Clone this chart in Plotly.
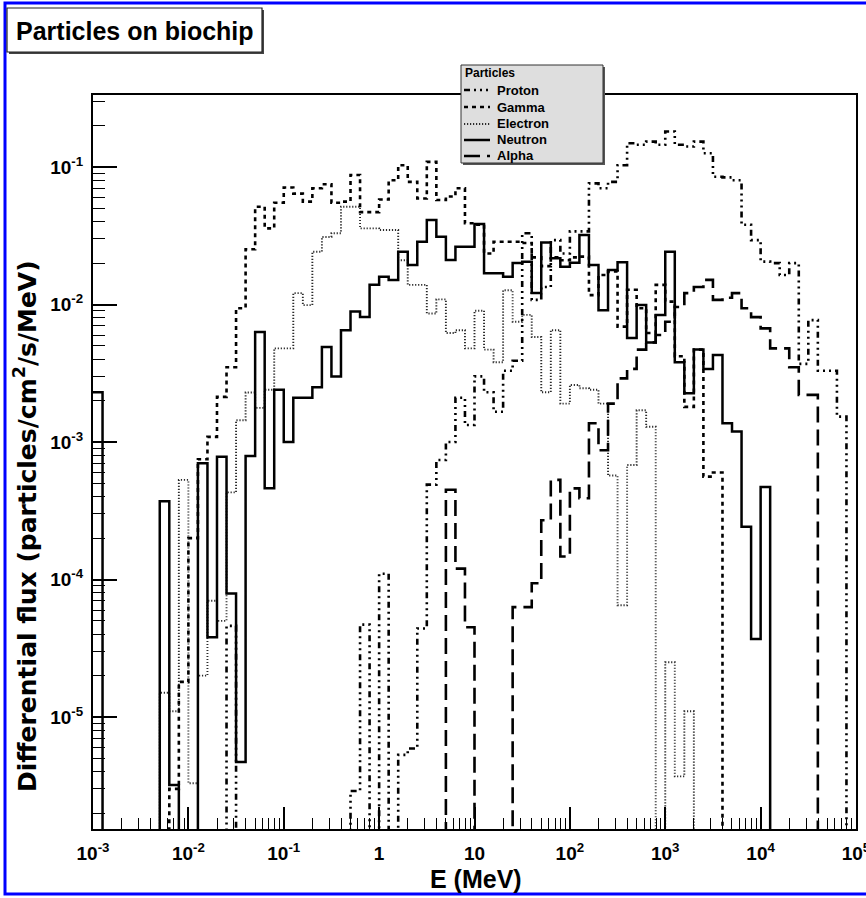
import numpy as np
import plotly.graph_objects as go

# ---- binning: 10 log bins per decade, 1e-3 .. 1e5 MeV ----
edges = np.logspace(-3, 5, 81)

# ---- series values (differential flux, particles/cm2/s/MeV), 80 bins ----
proton = [
    0, 0, 0, 0, 0, 0, 0, 0, 0, 0,
    0, 0, 0, 0, 4.6e-5, 0, 0, 0, 0, 0,
    0, 0, 0, 0, 0, 0, 0, 2.9e-6, 4.7e-5, 0,
    1.1e-4, 0, 5.3e-6, 5.9e-6, 4.4e-5, 4.9e-4, 7.4e-4, 1.0e-3, 2.1e-3, 1.33e-3,
    3.0e-3, 2.3e-3, 1.66e-3, 3.3e-3, 3.9e-3, 0.033, 0.0108, 0.0134, 0.0294, 0.0235,
    0.034, 0.034, 0.076, 0.070, 0.078, 0.103, 0.149, 0.145, 0.153, 0.145,
    0.181, 0.145, 0.141, 0.153, 0.126, 0.085, 0.084, 0.080, 0.038, 0.0294,
    0.0205, 0.020, 0.0164, 0.020, 3.7e-3, 7.7e-3, 3.3e-3, 3.3e-3, 1.53e-3, 0,
]
gamma = [
    0, 0, 0, 0, 0, 0, 0, 0, 3e-6, 1.8e-5,
    2.0e-4, 7.5e-4, 1.09e-3, 2.13e-3, 3.5e-3, 9.4e-3, 0.0252, 0.0514, 0.0358, 0.055,
    0.071, 0.064, 0.056, 0.070, 0.075, 0.055, 0.056, 0.0875, 0.047, 0.047,
    0.058, 0.080, 0.103, 0.078, 0.059, 0.109, 0.0575, 0.061, 0.070, 0.039,
    0.038, 0.0235, 0.0286, 0.0286, 0.0286, 0.028, 0.022, 0.019, 0.022, 0.021,
    0.022, 0.0223, 0.0117, 0.0164, 0.0174, 6.9e-3, 0.0128, 9.4e-3, 6.2e-3, 0.0139,
    0.0105, 4.2e-3, 1.8e-3, 4.7e-3, 5.6e-4, 6.0e-4, 0, 0, 0, 0,
    0, 0, 0, 0, 0, 0, 0, 0, 0, 0,
]
electron = [
    0, 0, 0, 0, 0, 0, 0, 1.5e-5, 1.1e-5, 5.3e-4,
    3.3e-6, 2.0e-5, 7.0e-5, 5.0e-5, 4.3e-4, 1.44e-3, 2.29e-3, 1.77e-3, 2.4e-3, 4.8e-3,
    4.8e-3, 0.0121, 9.9e-3, 0.0242, 0.031, 0.033, 0.0514, 0.0514, 0.0358, 0.0358,
    0.0348, 0.0348, 0.021, 0.0139, 0.0139, 8.6e-3, 0.0109, 6.2e-3, 6.5e-3, 4.8e-3,
    9.0e-3, 4.7e-3, 3.8e-3, 0.0127, 7.5e-3, 8.4e-3, 5.8e-3, 2.3e-3, 6.5e-3, 1.9e-3,
    2.6e-3, 2.46e-3, 2.4e-3, 1.9e-3, 5.7e-4, 6.5e-5, 6.8e-4, 1.7e-3, 1.29e-3, 0,
    2.5e-5, 3.7e-6, 1.1e-5, 0, 0, 0, 0, 0, 0, 0,
    0, 0, 0, 0, 0, 0, 0, 0, 0, 0,
]
neutron = [
    2.3e-3, 0, 0, 0, 0, 0, 0, 3.7e-4, 3.2e-6, 0,
    0, 7.0e-4, 3.8e-5, 7.8e-4, 7.9e-5, 4.7e-6, 7.9e-4, 6.3e-3, 4.6e-4, 2.4e-3,
    1.0e-3, 2.1e-3, 2.1e-3, 2.5e-3, 4.9e-3, 3.0e-3, 6.5e-3, 8.9e-3, 8.1e-3, 0.0139,
    0.0159, 0.0151, 0.0242, 0.0194, 0.0286, 0.0412, 0.0311, 0.0211, 0.0263, 0.0263,
    0.0385, 0.0169, 0.0169, 0.0159, 0.020, 0.0205, 0.0121, 0.0282, 0.0217, 0.0188,
    0.0201, 0.032, 0.0194, 9.1e-3, 0.0178, 0.0203, 5.7e-3, 9.9e-3, 5.3e-3, 8.4e-3,
    0.0242, 3.8e-3, 2.26e-3, 4.7e-3, 3.4e-3, 4.3e-3, 1.37e-3, 1.19e-3, 2.42e-4, 3.7e-5,
    4.7e-4, 0, 0, 0, 0, 0, 0, 0, 0, 0,
]
alpha = [
    0, 0, 0, 0, 0, 0, 0, 0, 0, 0,
    0, 0, 0, 0, 0, 0, 0, 0, 0, 0,
    0, 0, 0, 0, 0, 0, 0, 0, 0, 0,
    0, 0, 0, 0, 0, 0, 0, 4.5e-4, 1.2e-4, 4.5e-5,
    0, 0, 0, 0, 6.3e-5, 6.3e-5, 9.4e-5, 2.7e-4, 5.3e-4, 1.47e-4,
    4.6e-4, 3.9e-4, 1.37e-3, 8.7e-4, 1.9e-3, 2.9e-3, 3.4e-3, 4.7e-3, 5.3e-3, 6.0e-3,
    7.5e-3, 9.6e-3, 0.0121, 0.0134, 0.0151, 0.0108, 0.0112, 0.0121, 9.4e-3, 8.1e-3,
    6.7e-3, 4.8e-3, 4.8e-3, 3.5e-3, 2.2e-3, 2.2e-3, 0, 0, 0, 0,
]

series_names = ["Proton", "Gamma", "Electron", "Neutron", "Alpha"]
x_tick_vals = [1e-3, 1e-2, 1e-1, 1, 10, 1e2, 1e3, 1e4, 0.99995e5]
x_tick_text = ["10<sup>-3</sup>", "10<sup>-2</sup>", "10<sup>-1</sup>", "1", "10",
               "10<sup>2</sup>", "10<sup>3</sup>", "10<sup>4</sup>", "10<sup>5</sup>"]
y_tick_vals = [1e-5, 1e-4, 1e-3, 1e-2, 1e-1]
y_tick_text = ["10<sup>-5</sup>", "10<sup>-4</sup>", "10<sup>-3</sup>", "10<sup>-2</sup>", "10<sup>-1</sup>"]

for s in (proton, gamma, electron, neutron, alpha):
    assert len(s) == 80

# ---- styles ----
styles = {
    "Proton":   dict(color="black", width=2.6, dash="6px,4px,2px,4px,2px,4px,2px,4px"),
    "Gamma":    dict(color="black", width=2.6, dash="4px,4px"),
    "Electron": dict(color="#2a2a2a", width=1.9, dash="1.2px,1.8px"),
    "Neutron":  dict(color="black", width=2.5, dash="solid"),
    "Alpha":    dict(color="black", width=2.6, dash="16px,7px"),
}
data = {"Proton": proton, "Gamma": gamma, "Electron": electron, "Neutron": neutron, "Alpha": alpha}

FLOOR = 1e-9  # empty bins drop below the frame (as in ROOT)


def step_xy(vals):
    y = [v if v > 0 else FLOOR for v in vals]
    y.append(y[-1])
    return list(edges), y


fig = go.Figure()
for name in ["Electron", "Gamma", "Proton", "Alpha", "Neutron"]:
    x, y = step_xy(data[name])
    st = styles[name]
    fig.add_trace(go.Scatter(
        x=x, y=y, mode="lines", name=name,
        line=dict(shape="hv", color=st["color"], width=st["width"], dash=st["dash"]),
        showlegend=False, hoverinfo="skip"))

# ---- geometry helpers (pixel -> paper) ----
L, R, T, B = 93, 856, 95, 829
W_, H_ = R - L, B - T


def px(xp):
    return (xp - L) / W_


def py(yp):
    return (B - yp) / H_


FONT = "Liberation Sans, Arial, sans-serif"
WIDE = "DejaVu Sans, Liberation Sans, sans-serif"

# minor tick positions
ymin_log, ymax_log = -5.8145, -0.4764
x_minor = [k * 10.0 ** d for d in range(-3, 5) for k in range(2, 10)]
y_minor = [k * 10.0 ** d for d in range(-6, 0) for k in range(2, 10)
           if ymin_log <= np.log10(k * 10.0 ** d) <= ymax_log]

fig.update_layout(
    width=866, height=898,
    margin=dict(l=L, r=866 - R, t=T, b=898 - B, pad=0, autoexpand=False),
    paper_bgcolor="white", plot_bgcolor="white",
    showlegend=False,
    xaxis=dict(
        type="log", range=[-3, 5], showgrid=False, zeroline=False, automargin=False,
        showline=True, mirror=True, linecolor="black", linewidth=2,
        ticks="inside", ticklen=22, tickwidth=1.5, tickcolor="black",
        tickmode="array", tickvals=x_tick_vals, ticktext=x_tick_text,
        tickfont=dict(family=FONT, size=19, color="black", weight="bold"),
        ticklabelstandoff=6, ticklabeloverflow="allow",
        minor=dict(tickmode="array", tickvals=x_minor, ticks="inside", ticklen=11,
                   tickwidth=1.2, tickcolor="black", showgrid=False),
    ),
    yaxis=dict(
        type="log", range=[ymin_log, ymax_log], showgrid=False, zeroline=False, automargin=False,
        showline=True, mirror=True, linecolor="black", linewidth=2,
        ticks="inside", ticklen=24, tickwidth=1.5, tickcolor="black",
        tickmode="array", tickvals=y_tick_vals, ticktext=y_tick_text,
        tickfont=dict(family=FONT, size=19, color="black", weight="bold"),
        ticklabelstandoff=4, ticklabeloverflow="allow",
        minor=dict(tickmode="array", tickvals=y_minor, ticks="inside", ticklen=12,
                   tickwidth=1.2, tickcolor="black", showgrid=False),
    ),
)

shapes = []
annotations = []

# outer blue border
shapes.append(dict(type="rect", xref="paper", yref="paper",
                   x0=px(5), x1=px(880), y0=py(894), y1=py(3),
                   line=dict(color="#0000ff", width=3), fillcolor="rgba(0,0,0,0)"))

# title box with shadow
shapes.append(dict(type="rect", xref="paper", yref="paper",
                   x0=px(9), x1=px(264), y0=py(54), y1=py(10),
                   line=dict(width=0), fillcolor="#444444"))
shapes.append(dict(type="rect", xref="paper", yref="paper",
                   x0=px(7), x1=px(262), y0=py(52), y1=py(8),
                   line=dict(color="#222222", width=1.2), fillcolor="white"))
annotations.append(dict(xref="paper", yref="paper", x=px(14), y=py(31),
                        xanchor="left", yanchor="middle", showarrow=False,
                        text="<b>Particles on biochip</b>",
                        font=dict(family=FONT, size=25, color="black")))

# legend box with shadow
shapes.append(dict(type="rect", xref="paper", yref="paper",
                   x0=px(463), x1=px(605), y0=py(165), y1=py(67),
                   line=dict(width=0), fillcolor="#555555"))
shapes.append(dict(type="rect", xref="paper", yref="paper",
                   x0=px(461), x1=px(603), y0=py(163), y1=py(65),
                   line=dict(color="#333333", width=1), fillcolor="#dedede"))
annotations.append(dict(xref="paper", yref="paper", x=px(463), y=py(73),
                        xanchor="left", yanchor="middle", showarrow=False,
                        text="<b>Particles</b>",
                        font=dict(family=FONT, size=12, color="black")))
row_y = [90, 107, 124, 140, 156]
for name, ry in zip(series_names, row_y):
    st = styles[name]
    shapes.append(dict(type="line", xref="paper", yref="paper",
                       x0=px(464), x1=px(490), y0=py(ry), y1=py(ry),
                       line=dict(color=st["color"], width=st["width"], dash=st["dash"])))
    annotations.append(dict(xref="paper", yref="paper", x=px(495), y=py(ry),
                            xanchor="left", yanchor="middle", showarrow=False,
                            text=f"<b>{name}</b>",
                            font=dict(family=FONT, size=13, color="black")))

# axis titles
annotations.append(dict(xref="paper", yref="paper", x=px(476), y=py(879),
                        xanchor="center", yanchor="middle", showarrow=False,
                        text="<b>E (MeV)</b>",
                        font=dict(family=FONT, size=25, color="black")))
annotations.append(dict(xref="paper", yref="paper", x=px(25), y=py(526),
                        xanchor="center", yanchor="middle", showarrow=False,
                        textangle=-90,
                        text="<b>Differential flux (particles/cm<sup>2</sup>/s/MeV)</b>",
                        font=dict(family=WIDE, size=25, color="black")))

fig.update_layout(shapes=shapes, annotations=annotations)
fig.write_html("out.html")
